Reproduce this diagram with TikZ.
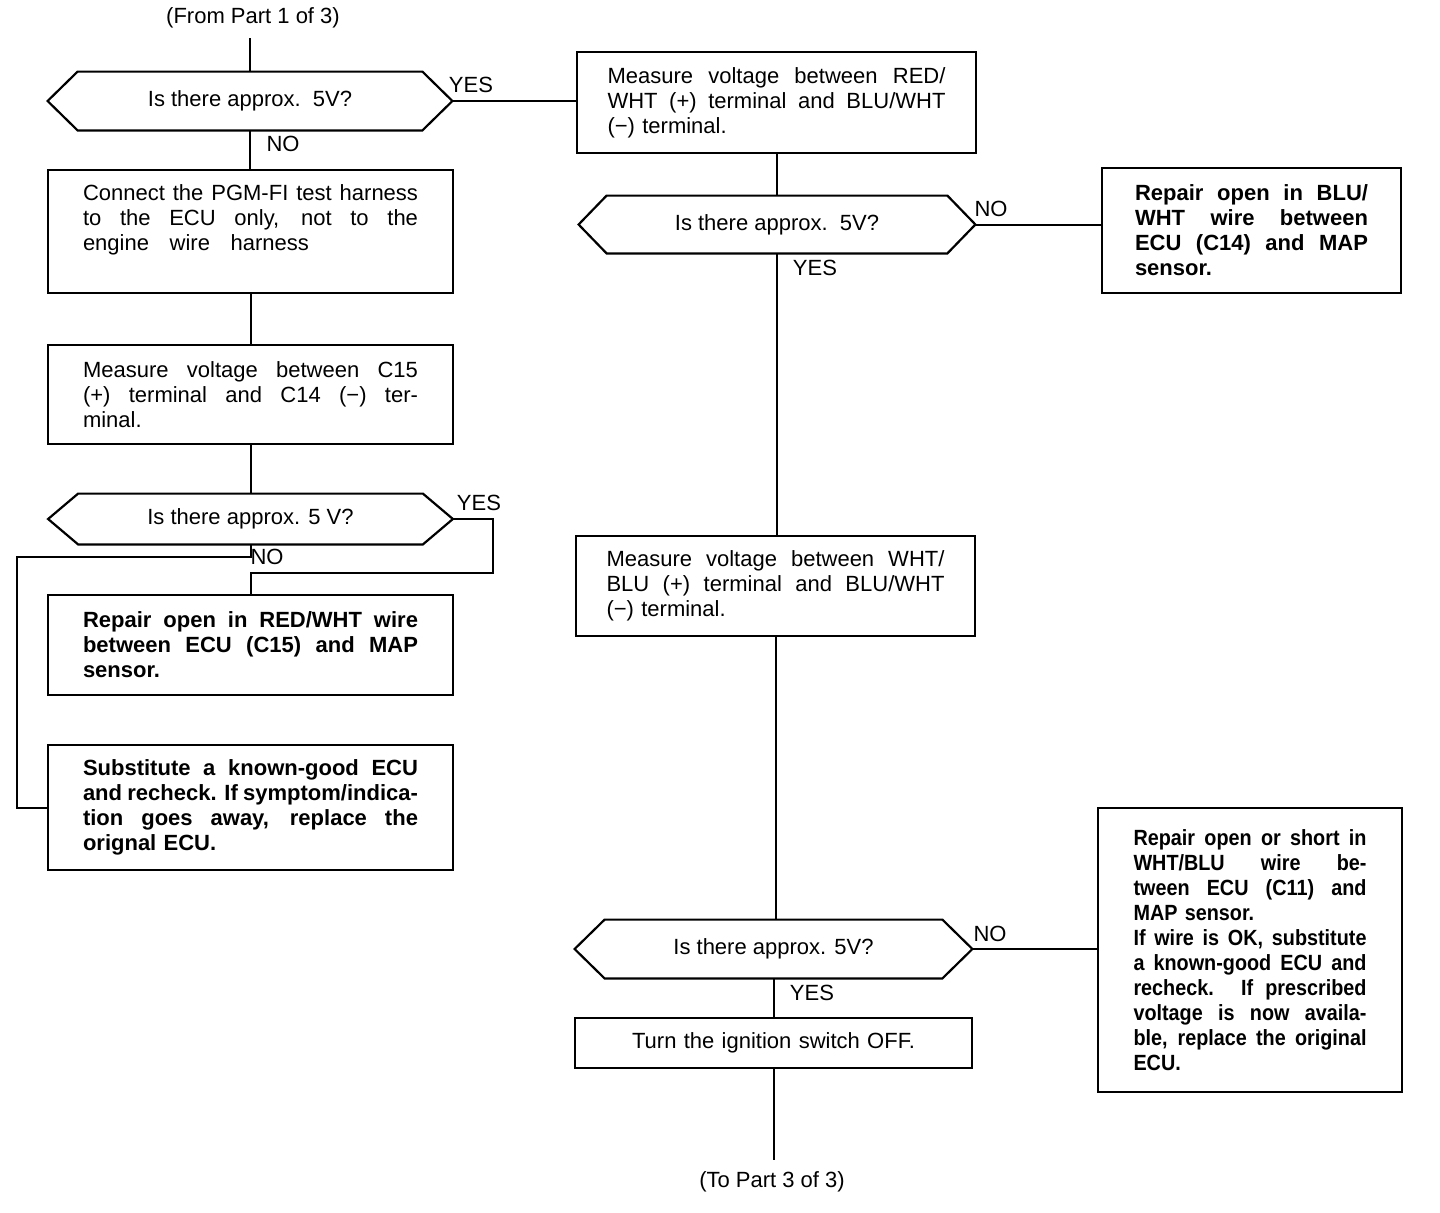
\documentclass[tikz,border=0pt]{standalone}
\usepackage{fontspec}
\setmainfont{Liberation Sans}
\newfontfamily\condfont[FakeStretch=0.9]{Liberation Sans}
\newcommand\jline[2][167.5pt]{\makebox[#1][s]{\spaceskip=0pt\xspaceskip=0pt #2}}
\newcommand\hexof[2]{\draw[hexa] ([xshift=#2]#1.north west) -- ([xshift=-#2]#1.north east) -- (#1.east) -- ([xshift=-#2]#1.south east) -- ([xshift=#2]#1.south west) -- (#1.west) -- cycle;}
\begin{document}
\begin{tikzpicture}[x=0.5pt,y=-0.5pt,
  conn/.style={line width=1pt},
  hexa/.style={line width=1.1pt},
  pbox/.style={draw, line width=1.1pt, rectangle, inner ysep=0pt, align=left, font=\fontsize{11}{12.5}\selectfont},
  boldbox/.style={pbox, font=\fontsize{11}{12.5}\selectfont\bfseries},
  condbox/.style={pbox, font=\fontsize{11}{12.5}\selectfont\condfont\bfseries},
  dec/.style={rectangle, inner sep=0pt, font=\fontsize{11}{12.5}\selectfont},
  lbl/.style={font=\fontsize{11}{12}\selectfont, inner sep=0pt}]
\useasboundingbox (0,0) rectangle (1440,1212);

% left column
\node[lbl] (from) at (253,18) {(From Part 1 of 3)};
\node[dec, minimum width=202pt, minimum height=29pt] (d1) at (250,101) {Is there approx.\ \ 5V?};
\node[pbox, text width=167.5pt, inner xsep=17.5pt, minimum height=61.5pt] (b1) at (250.5,231.5)
  {\jline{Connect the PGM-FI test harness}\\\jline{to the ECU only, not to the}\\\jline[113pt]{engine wire harness}\rule[-13.8pt]{0pt}{13.8pt}};
\node[pbox, text width=167.5pt, inner xsep=17.5pt, minimum height=49.5pt] (b2) at (250.5,394.5)
  {\jline{Measure voltage between C15}\\\jline{(+) terminal and C14 (−) ter-}\\minal.};
\node[dec, minimum width=202pt, minimum height=25pt] (d2) at (250.5,519) {Is there approx. 5 V?};
\node[boldbox, text width=167.5pt, inner xsep=17.5pt, minimum height=50pt] (b3) at (250.5,645)
  {\jline{Repair open in RED/WHT wire}\\\jline{between ECU (C15) and MAP}\\sensor.};
\node[boldbox, text width=167.5pt, inner xsep=17.5pt, minimum height=62.5pt] (b4) at (250.5,807.5)
  {\jline{Substitute a known-good ECU}\\\jline{and recheck. If symptom/indica-}\\\jline{tion goes away, replace the}\\orignal ECU.};

% right column
\node[pbox, text width=169pt, inner xsep=15.25pt, minimum height=50.5pt] (b5) at (776.5,102.5)
  {\jline[169pt]{Measure voltage between RED/}\\\jline[169pt]{WHT (+) terminal and BLU/WHT}\\(−) terminal.};
\node[dec, minimum width=198pt, minimum height=28.5pt] (d3) at (777,224.5) {Is there approx.\ \ 5V?};
\node[boldbox, text width=116.5pt, inner xsep=16.5pt, minimum height=62.5pt] (b6) at (1251.5,230.5)
  {\jline[116.5pt]{Repair open in BLU/}\\\jline[116.5pt]{WHT wire between}\\\jline[116.5pt]{ECU (C14) and MAP}\\sensor.};
\node[pbox, text width=169pt, inner xsep=15.25pt, minimum height=50pt] (b7) at (775.5,586)
  {\jline[169pt]{Measure voltage between WHT/}\\\jline[169pt]{BLU (+) terminal and BLU/WHT}\\(−) terminal.};
\node[dec, minimum width=198.5pt, minimum height=29pt] (d4) at (773.5,949) {Is there approx. 5V?};
\node[condbox, text width=116.5pt, inner xsep=17.75pt, minimum height=142pt] (b8) at (1250,950)
  {\jline[116.5pt]{Repair open or short in}\\\jline[116.5pt]{WHT/BLU wire be-}\\\jline[116.5pt]{tween ECU (C11) and}\\MAP sensor.\\\jline[116.5pt]{If wire is OK, substitute}\\\jline[116.5pt]{a known-good ECU and}\\\jline[116.5pt]{recheck. If prescribed}\\\jline[116.5pt]{voltage is now availa-}\\\jline[116.5pt]{ble, replace the original}\\ECU.};
\node[pbox, align=center, text width=168pt, inner xsep=15.25pt, minimum height=25pt] (b9) at (773.5,1043)
  {Turn the ignition switch OFF.};
\node[lbl] (to) at (772,1182) {(To Part 3 of 3)};

% hexagons
\hexof{d1}{15pt}
\hexof{d2}{15pt}
\hexof{d3}{14pt}
\hexof{d4}{15pt}

% labels
\node[lbl] (y1) at (471,85) {YES};
\node[lbl] (n1) at (283,144) {NO};
\node[lbl] (y2) at (479,503) {YES};
\node[lbl] (n2) at (267,557) {NO};
\node[lbl] (n3) at (991,209) {NO};
\node[lbl] (y3) at (815,268) {YES};
\node[lbl] (n4) at (990,934) {NO};
\node[lbl] (y4) at (812,993) {YES};

% connectors
\coordinate (fromend) at (250,38);
\coordinate (yl) at (493,573);
\coordinate (nl) at (17,557);
\coordinate (tend) at (775,1160);
\draw[conn] (fromend) -- (d1.north);
\draw[conn] (d1.east) -- (d1.east -| b5.west);
\draw[conn] (d1.south) -- (d1.south |- b1.north);
\draw[conn] (b1.south) -- (b1.south |- b2.north);
\draw[conn] (b2.south) -- (b2.south |- d2.north);
\draw[conn] (d2.east) -| (yl) -| (b3.north);
\draw[conn] (d2.south) |- (nl) |- (b4.west);
\draw[conn] (b5.south) -- (b5.south |- d3.north);
\draw[conn] (d3.east) -- (d3.east -| b6.west);
\draw[conn] (d3.south) -- (d3.south |- b7.north);
\draw[conn] (b7.south) -- (b7.south |- d4.north);
\draw[conn] (d4.east) -- (d4.east -| b8.west);
\draw[conn] (d4.south) -- (d4.south |- b9.north);
\draw[conn] (b9.south) -- (b9.south |- tend);
\end{tikzpicture}
\end{document}
